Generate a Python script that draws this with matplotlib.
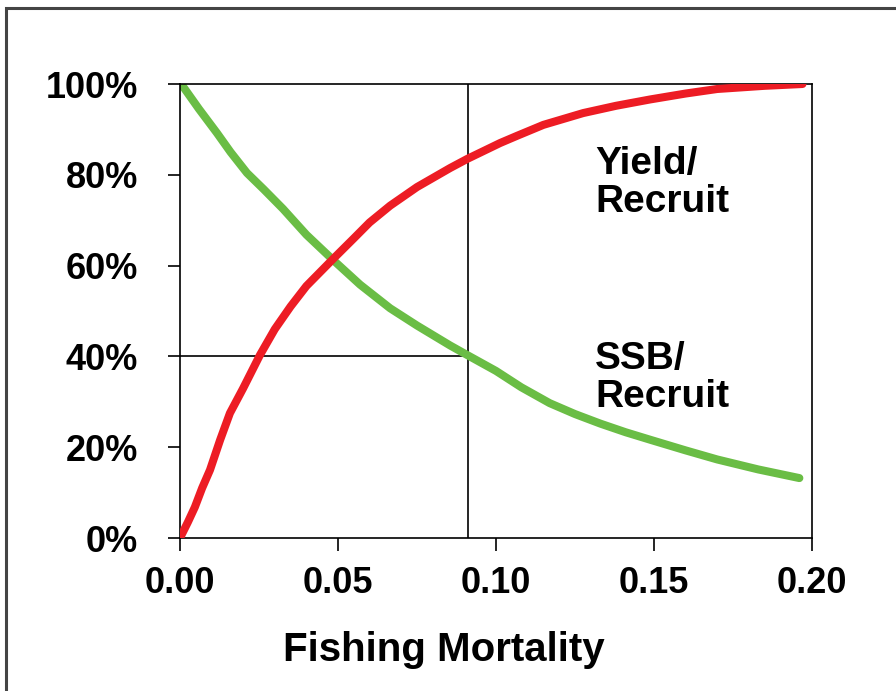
import matplotlib
matplotlib.use('Agg')
import matplotlib.pyplot as plt
from matplotlib.patches import Rectangle
from matplotlib.ticker import FuncFormatter

# values
yield_f = [0.0, 0.0025, 0.0047, 0.0070, 0.0095, 0.0127, 0.0158, 0.020, 0.0253,
           0.030, 0.035, 0.040, 0.0485, 0.055, 0.060, 0.0665, 0.075, 0.0855,
           0.0909, 0.1013, 0.1067, 0.115, 0.1276, 0.138, 0.1488, 0.160, 0.170,
           0.185, 0.197]
yield_pct = [0.0, 3.5, 6.8, 11.0, 15.0, 21.6, 27.5, 33.0, 40.3,
             46.0, 51.0, 55.5, 61.5, 66.0, 69.5, 73.2, 77.3, 81.5,
             83.5, 87.0, 88.6, 91.0, 93.6, 95.2, 96.6, 97.9, 98.9,
             99.6, 100.0]

ssb_f = [0.0006, 0.006, 0.0117, 0.016, 0.0212, 0.0265, 0.0326, 0.040, 0.0485,
         0.057, 0.0665, 0.075, 0.0855, 0.0909, 0.100, 0.108, 0.117, 0.125,
         0.133, 0.141, 0.149, 0.160, 0.170, 0.183, 0.196]
ssb_pct = [99.8, 94.5, 89.2, 85.0, 80.4, 76.8, 72.5, 66.8, 61.2,
           55.8, 50.6, 46.8, 42.4, 40.3, 36.8, 33.2, 29.7, 27.3,
           25.2, 23.3, 21.6, 19.3, 17.3, 15.1, 13.2]

ref_f = 0.091
ref_pct = 40

x_ticks = [0.0, 0.05, 0.10, 0.15, 0.20]
y_ticks = [0, 20, 40, 60, 80, 100]

plt.rcParams['font.family'] = ['Liberation Sans', 'DejaVu Sans']
plt.rcParams['font.weight'] = 'bold'

fig = plt.figure(figsize=(8.96, 6.91), dpi=100)
ax = fig.add_axes([180 / 896, 153 / 691, 632 / 896, 454 / 691])

# reference lines
ax.plot([ref_f, ref_f], [0, 100], color='black', linewidth=1.2, zorder=1)
ax.plot([0, ref_f], [ref_pct, ref_pct], color='black', linewidth=1.2, zorder=1)

ax.plot(yield_f, yield_pct, color='#ED1C24', linewidth=5.8,
        solid_capstyle='round', solid_joinstyle='round', zorder=3)
ax.plot(ssb_f, ssb_pct, color='#6ABD45', linewidth=5.8,
        solid_capstyle='round', solid_joinstyle='round', zorder=2)

ax.set_xlim(0, 0.2)
ax.set_ylim(0, 100)
ax.set_xticks(x_ticks)
ax.set_yticks(y_ticks)
ax.xaxis.set_major_formatter(FuncFormatter(lambda v, p: '{:.2f}'.format(v)))
ax.yaxis.set_major_formatter(FuncFormatter(lambda v, p: '{:.0f}%'.format(v)))

for side in ['left', 'right', 'top', 'bottom']:
    ax.spines[side].set_linewidth(1.2)
    ax.spines[side].set_color('black')

ax.tick_params(axis='both', direction='out', length=9, width=1.2,
               labelsize=26, colors='black')
ax.tick_params(axis='y', pad=21)
ax.tick_params(axis='x', pad=11)
for lab in ax.get_xticklabels() + ax.get_yticklabels():
    lab.set_fontweight('bold')

ax.set_xlabel('Fishing Mortality', fontsize=29, fontweight='bold')
ax.xaxis.set_label_coords((444 - 180) / 632, -0.205)
ax.xaxis.label.set_va('top')

ax.text(0.1314, 86.3, 'Yield/\nRecruit', fontsize=28, fontweight='bold',
        ha='left', va='top', linespacing=1.05)
ax.text(0.1314, 43.3, 'SSB/\nRecruit', fontsize=28, fontweight='bold',
        ha='left', va='top', linespacing=1.05)

# outer frame around the figure
fig.patches.append(Rectangle((6 / 896, -0.1), 1.2, (691 - 8) / 691 + 0.1,
                             transform=fig.transFigure, fill=False,
                             edgecolor='#444444', linewidth=2.2))

fig.savefig('out.png', dpi=100)
